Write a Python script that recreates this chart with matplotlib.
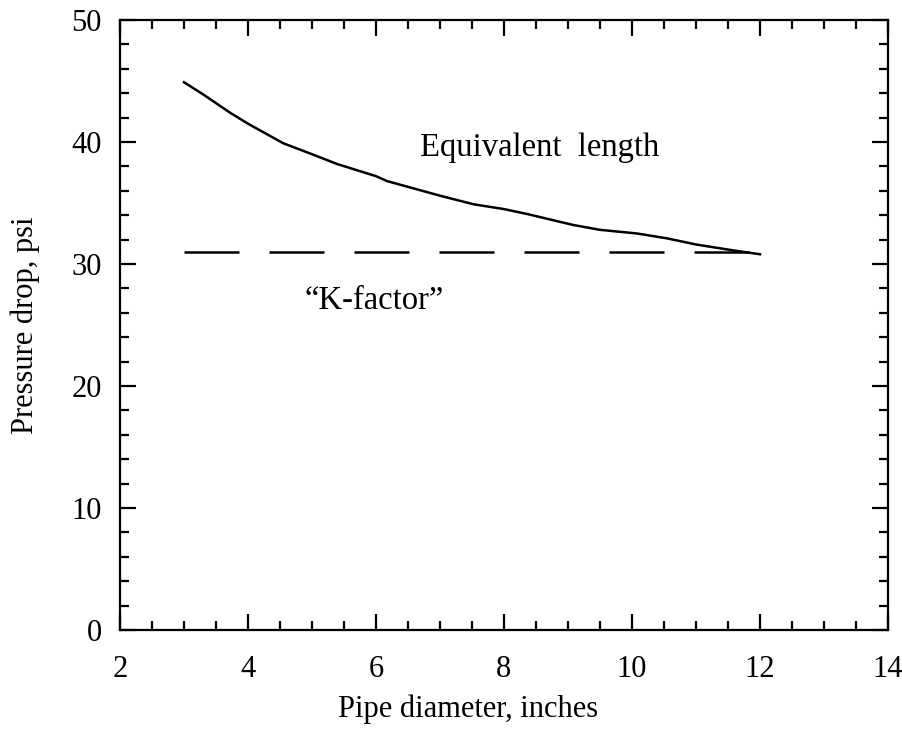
import matplotlib
matplotlib.use("Agg")
import matplotlib.pyplot as plt
from matplotlib.ticker import MultipleLocator

plt.rcParams['font.family'] = ['Liberation Serif', 'DejaVu Serif']
plt.rcParams['lines.scale_dashes'] = False

# Equivalent length curve
diam_eq = [3.0, 3.3, 3.72, 4.0, 4.55, 5.0, 5.39, 6.0, 6.17, 7.0, 7.52, 8.0, 8.36, 9.08, 9.5, 10.08, 10.55, 11.0, 11.6, 12.0]
dp_eq = [44.9, 43.9, 42.4, 41.5, 39.9, 39.0, 38.2, 37.2, 36.8, 35.6, 34.9, 34.5, 34.1, 33.2, 32.8, 32.5, 32.1, 31.6, 31.1, 30.8]

# K-factor line
diam_k = [3.0, 12.0]
dp_k = [31.0, 31.0]

fig = plt.figure(figsize=(9.03, 7.37), dpi=100)
ax = fig.add_axes([120/903, (737-630)/737, 768/903, 610/737])

ax.plot(diam_eq, dp_eq, color='black', lw=1.8)
ax.plot(diam_k, dp_k, color='black', lw=1.8, dashes=(39.6, 21.6))

ax.set_xlim(2, 14)
ax.set_ylim(0, 50)
ax.xaxis.set_major_locator(MultipleLocator(2))
ax.xaxis.set_minor_locator(MultipleLocator(0.5))
ax.yaxis.set_major_locator(MultipleLocator(10))
ax.yaxis.set_minor_locator(MultipleLocator(2))

for s in ax.spines.values():
    s.set_linewidth(1.6)
ax.tick_params(which='both', direction='in', top=True, right=True, width=1.6, labelsize=22)
ax.tick_params(which='major', length=11.5)
ax.tick_params(which='minor', length=6.5)
ax.tick_params(axis='x', which='major', pad=18)
ax.tick_params(axis='y', which='major', pad=13)

ax.set_xlabel('Pipe diameter, inches', fontsize=22)
ax.set_ylabel('Pressure drop, psi', fontsize=22)
ax.xaxis.set_label_coords((468-120)/768, -(694-630)/610)
ax.yaxis.set_label_coords(-(120-40)/768, 0.5)

ax.text(8.55, 39.5, 'Equivalent  length', fontsize=23.5, ha='center', va='center')
ax.text(5.97, 27.0, '\u201cK-factor\u201d', fontsize=23.5, ha='center', va='center')

fig.savefig('out.png', dpi=100)
